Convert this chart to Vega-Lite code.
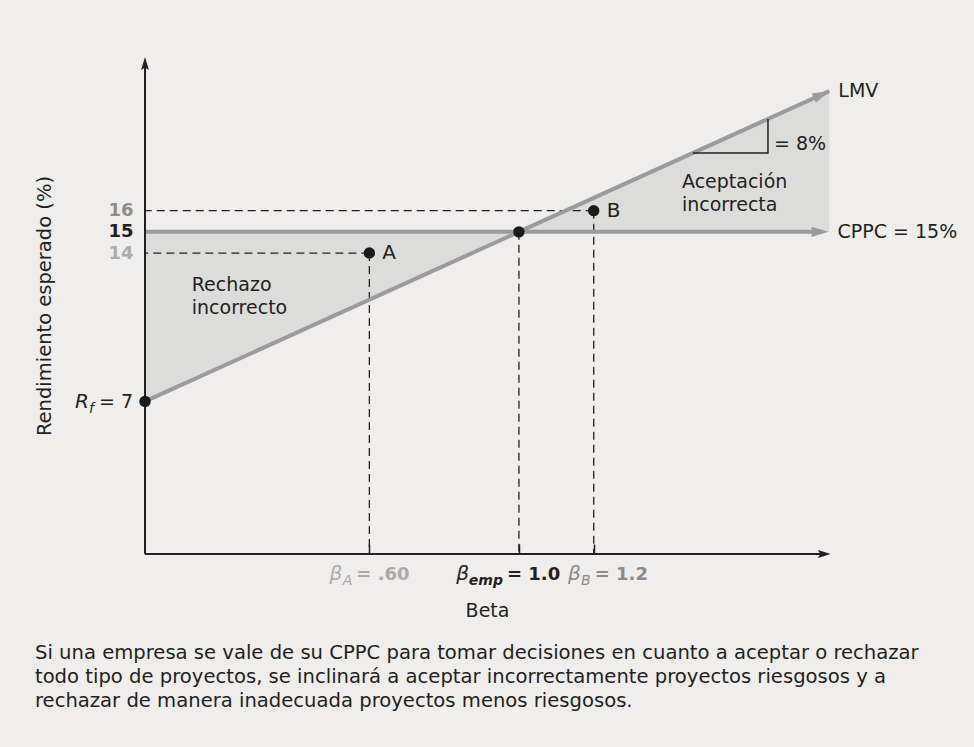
{
  "$schema": "https://vega.github.io/schema/vega-lite/v6.json",
  "width": 700,
  "height": 497,
  "autosize": {"type": "none"},
  "padding": {"left": 145, "top": 57, "right": 129, "bottom": 193},
  "background": "#efeeec",
  "config": {
    "view": {"stroke": null},
    "font": "DejaVu Sans",
    "text": {"font": "DejaVu Sans", "color": "#231f20"}
  },
  "title": {
    "text": [
      "Si una empresa se vale de su CPPC para tomar decisiones en cuanto a aceptar o rechazar",
      "todo tipo de proyectos, se inclinará a aceptar incorrectamente proyectos riesgosos y a",
      "rechazar de manera inadecuada proyectos menos riesgosos."
    ],
    "orient": "bottom",
    "anchor": "start",
    "frame": "bounds",
    "font": "DejaVu Sans",
    "fontSize": 19.6,
    "fontWeight": "normal",
    "color": "#231f20",
    "lineHeight": 24,
    "offset": 23
  },
  "datasets": {
    "shade": [
      {"b": 0, "lo": 7, "hi": 15},
      {"b": 1.0, "lo": 15, "hi": 15},
      {"b": 1.83, "lo": 15, "hi": 21.64}
    ],
    "lmv": [
      {"b": 0, "r": 7},
      {"b": 1.83, "r": 21.64}
    ],
    "pts": [
      {"name": "Rf", "b": 0, "r": 7},
      {"name": "A", "b": 0.6, "r": 14},
      {"name": "emp", "b": 1.0, "r": 15},
      {"name": "B", "b": 1.2, "r": 16}
    ],
    "tri": [
      {"o": 1, "b": 1.465, "r": 18.72},
      {"o": 2, "b": 1.666, "r": 18.72},
      {"o": 3, "b": 1.666, "r": 20.33}
    ],
    "notes": [
      {"b": 0.125, "r": 12.49, "t": "Rechazo\nincorrecto"},
      {"b": 1.436, "r": 17.35, "t": "Aceptación\nincorrecta"},
      {"b": 1.682, "r": 19.15, "t": "= 8%"}
    ],
    "ends": [
      {"b": 1.83, "r": 21.64, "t": "LMV"},
      {"b": 1.828, "r": 15, "t": "CPPC = 15%"}
    ],
    "bl": [
      {"k": "A", "b": 0.6, "sub": "A", "val": "= .60"},
      {"k": "emp", "b": 1.0, "sub": "emp", "val": "= 1.0"},
      {"k": "B", "b": 1.2, "sub": "B", "val": "= 1.2"}
    ]
  },
  "layer": [
    {
      "data": {"name": "shade"},
      "mark": {"type": "area", "color": "#dcdcdb", "opacity": 1},
      "encoding": {
        "x": {
          "field": "b", "type": "quantitative",
          "scale": {"domain": [0, 1.872], "nice": false, "zero": false},
          "axis": {
            "values": [0.6, 1.0, 1.2],
            "labels": false, "domain": false, "grid": false,
            "ticks": true, "tickSize": -10, "tickColor": "#231f20", "tickWidth": 1.5,
            "title": "Beta", "titleFont": "DejaVu Sans", "titleFontSize": 19, "titleFontWeight": "normal",
            "titleColor": "#231f20", "titlePadding": 47, "titleX": 342
          }
        },
        "y": {
          "field": "lo", "type": "quantitative",
          "scale": {"domain": [-0.2, 23.25], "nice": false, "zero": false},
          "axis": {
            "values": [14, 15, 16],
            "domain": false, "grid": false, "ticks": false,
            "labelFont": "DejaVu Sans", "labelFontSize": 18, "labelFontWeight": "bold",
            "labelPadding": 12, "labelOverlap": false,
            "labelColor": {
              "condition": [
                {"test": "datum.value === 15", "value": "#231f20"},
                {"test": "datum.value === 16", "value": "#8c8c8c"}
              ],
              "value": "#ababab"
            },
            "title": "Rendimiento esperado (%)", "titleFont": "DejaVu Sans", "titleFontSize": 19.5,
            "titleFontWeight": "normal", "titleColor": "#231f20", "titlePadding": 53
          }
        },
        "y2": {"field": "hi"}
      }
    },
    {
      "data": {"name": "pts"},
      "transform": [{"filter": "datum.name !== 'Rf'"}],
      "mark": {"type": "rule", "color": "#231f20", "strokeWidth": 1.3, "strokeDash": [8, 5]},
      "encoding": {
        "x": {"field": "b", "type": "quantitative"},
        "y": {"field": "r", "type": "quantitative"},
        "y2": {"datum": -0.2}
      }
    },
    {
      "data": {"name": "pts"},
      "transform": [{"filter": "datum.name === 'A' || datum.name === 'B'"}],
      "mark": {"type": "rule", "color": "#231f20", "strokeWidth": 1.3, "strokeDash": [8, 5]},
      "encoding": {
        "x": {"field": "b", "type": "quantitative"},
        "x2": {"datum": 0},
        "y": {"field": "r", "type": "quantitative"}
      }
    },
    {
      "data": {"name": "lmv"},
      "mark": {"type": "line", "color": "#9b9b9b", "strokeWidth": 4},
      "encoding": {
        "x": {"field": "b", "type": "quantitative"},
        "y": {"field": "r", "type": "quantitative"}
      }
    },
    {
      "data": {"values": [{}]},
      "mark": {"type": "rule", "color": "#9b9b9b", "strokeWidth": 4},
      "encoding": {
        "x": {"datum": 0, "type": "quantitative"},
        "x2": {"datum": 1.81},
        "y": {"datum": 15, "type": "quantitative"}
      }
    },
    {
      "data": {"values": [{}]},
      "mark": {"type": "rule", "color": "#231f20", "strokeWidth": 2},
      "encoding": {
        "x": {"datum": 0, "type": "quantitative"},
        "y": {"datum": -0.2, "type": "quantitative"},
        "y2": {"datum": 22.9}
      }
    },
    {
      "data": {"values": [{}]},
      "mark": {"type": "rule", "color": "#231f20", "strokeWidth": 2},
      "encoding": {
        "x": {"datum": 0, "type": "quantitative"},
        "x2": {"datum": 1.81},
        "y": {"datum": -0.2, "type": "quantitative"}
      }
    },
    {
      "data": {"name": "tri"},
      "mark": {"type": "line", "color": "#231f20", "strokeWidth": 1.5},
      "encoding": {
        "x": {"field": "b", "type": "quantitative"},
        "y": {"field": "r", "type": "quantitative"},
        "order": {"field": "o", "type": "quantitative"}
      }
    },
    {
      "data": {"values": [{}]},
      "mark": {"type": "point", "shape": "M0,0L-2,-0.6L-1.6,0L-2,0.6Z", "filled": true, "opacity": 1, "color": "#231f20", "size": 169, "angle": -90},
      "encoding": {"x": {"datum": 0, "type": "quantitative"}, "y": {"datum": 23.25, "type": "quantitative"}}
    },
    {
      "data": {"values": [{}]},
      "mark": {"type": "point", "shape": "M0,0L-2,-0.6L-1.6,0L-2,0.6Z", "filled": true, "opacity": 1, "color": "#231f20", "size": 169, "angle": 0},
      "encoding": {"x": {"datum": 1.834, "type": "quantitative"}, "y": {"datum": -0.2, "type": "quantitative"}}
    },
    {
      "data": {"values": [{}]},
      "mark": {"type": "point", "shape": "M0,0L-2,-0.6L-2,0.6Z", "filled": true, "opacity": 1, "color": "#9b9b9b", "size": 289, "angle": -24.4},
      "encoding": {"x": {"datum": 1.83, "type": "quantitative"}, "y": {"datum": 21.64, "type": "quantitative"}}
    },
    {
      "data": {"values": [{}]},
      "mark": {"type": "point", "shape": "M0,0L-2,-0.6L-2,0.6Z", "filled": true, "opacity": 1, "color": "#9b9b9b", "size": 289, "angle": 0},
      "encoding": {"x": {"datum": 1.828, "type": "quantitative"}, "y": {"datum": 15, "type": "quantitative"}}
    },
    {
      "data": {"name": "pts"},
      "mark": {"type": "point", "shape": "circle", "filled": true, "opacity": 1, "color": "#1a1a1a", "size": 130},
      "encoding": {
        "x": {"field": "b", "type": "quantitative"},
        "y": {"field": "r", "type": "quantitative"}
      }
    },
    {
      "data": {"name": "pts"},
      "transform": [{"filter": "datum.name === 'A' || datum.name === 'B'"}],
      "mark": {"type": "text", "align": "left", "baseline": "middle", "dx": 13, "fontSize": 20},
      "encoding": {
        "x": {"field": "b", "type": "quantitative"},
        "y": {"field": "r", "type": "quantitative"},
        "text": {"field": "name", "type": "nominal"}
      }
    },
    {
      "data": {"name": "notes"},
      "mark": {"type": "text", "align": "left", "baseline": "middle", "fontSize": 19, "lineBreak": "\n", "lineHeight": 23},
      "encoding": {
        "x": {"field": "b", "type": "quantitative"},
        "y": {"field": "r", "type": "quantitative"},
        "text": {"field": "t", "type": "nominal"}
      }
    },
    {
      "data": {"name": "ends"},
      "mark": {"type": "text", "align": "left", "baseline": "middle", "dx": 9, "fontSize": 19},
      "encoding": {
        "x": {"field": "b", "type": "quantitative"},
        "y": {"field": "r", "type": "quantitative"},
        "text": {"field": "t", "type": "nominal"}
      }
    },
    {
      "data": {"name": "pts"},
      "transform": [{"filter": "datum.name === 'Rf'"}],
      "mark": {"type": "text", "align": "right", "baseline": "alphabetic", "dx": -56, "dy": 7, "fontSize": 20, "fontStyle": "italic", "text": "R"},
      "encoding": {
        "x": {"field": "b", "type": "quantitative"},
        "y": {"field": "r", "type": "quantitative"}
      }
    },
    {
      "data": {"name": "pts"},
      "transform": [{"filter": "datum.name === 'Rf'"}],
      "mark": {"type": "text", "align": "left", "baseline": "alphabetic", "dx": -56, "dy": 12, "fontSize": 14, "fontStyle": "italic", "text": "f"},
      "encoding": {
        "x": {"field": "b", "type": "quantitative"},
        "y": {"field": "r", "type": "quantitative"}
      }
    },
    {
      "data": {"name": "pts"},
      "transform": [{"filter": "datum.name === 'Rf'"}],
      "mark": {"type": "text", "align": "right", "baseline": "alphabetic", "dx": -12, "dy": 7, "fontSize": 19, "text": "= 7"},
      "encoding": {
        "x": {"field": "b", "type": "quantitative"},
        "y": {"field": "r", "type": "quantitative"}
      }
    },
    {
      "data": {"name": "bl"},
      "transform": [{"filter": "datum.k === 'A'"}],
      "mark": {"type": "text", "align": "right", "baseline": "alphabetic", "dx": -27, "dy": 26, "fontSize": 20, "fontStyle": "italic", "color": "#aaaaaa", "text": "β"},
      "encoding": {"x": {"field": "b", "type": "quantitative"}, "y": {"datum": -0.2, "type": "quantitative"}}
    },
    {
      "data": {"name": "bl"},
      "transform": [{"filter": "datum.k === 'A'"}],
      "mark": {"type": "text", "align": "right", "baseline": "alphabetic", "dx": -17, "dy": 31, "fontSize": 14, "fontStyle": "italic", "color": "#aaaaaa"},
      "encoding": {"x": {"field": "b", "type": "quantitative"}, "y": {"datum": -0.2, "type": "quantitative"}, "text": {"field": "sub", "type": "nominal"}}
    },
    {
      "data": {"name": "bl"},
      "transform": [{"filter": "datum.k === 'A'"}],
      "mark": {"type": "text", "align": "left", "baseline": "alphabetic", "dx": -13, "dy": 26, "fontSize": 18, "fontWeight": "bold", "color": "#aaaaaa"},
      "encoding": {"x": {"field": "b", "type": "quantitative"}, "y": {"datum": -0.2, "type": "quantitative"}, "text": {"field": "val", "type": "nominal"}}
    },
    {
      "data": {"name": "bl"},
      "transform": [{"filter": "datum.k === 'emp'"}],
      "mark": {"type": "text", "align": "right", "baseline": "alphabetic", "dx": -50, "dy": 26, "fontSize": 20, "fontStyle": "italic", "color": "#231f20", "text": "β"},
      "encoding": {"x": {"field": "b", "type": "quantitative"}, "y": {"datum": -0.2, "type": "quantitative"}}
    },
    {
      "data": {"name": "bl"},
      "transform": [{"filter": "datum.k === 'emp'"}],
      "mark": {"type": "text", "align": "right", "baseline": "alphabetic", "dx": -16, "dy": 31, "fontSize": 14, "fontStyle": "italic", "fontWeight": "bold", "color": "#231f20"},
      "encoding": {"x": {"field": "b", "type": "quantitative"}, "y": {"datum": -0.2, "type": "quantitative"}, "text": {"field": "sub", "type": "nominal"}}
    },
    {
      "data": {"name": "bl"},
      "transform": [{"filter": "datum.k === 'emp'"}],
      "mark": {"type": "text", "align": "left", "baseline": "alphabetic", "dx": -12, "dy": 26, "fontSize": 18, "fontWeight": "bold", "color": "#231f20"},
      "encoding": {"x": {"field": "b", "type": "quantitative"}, "y": {"datum": -0.2, "type": "quantitative"}, "text": {"field": "val", "type": "nominal"}}
    },
    {
      "data": {"name": "bl"},
      "transform": [{"filter": "datum.k === 'B'"}],
      "mark": {"type": "text", "align": "right", "baseline": "alphabetic", "dx": -13, "dy": 26, "fontSize": 20, "fontStyle": "italic", "color": "#8a8a8a", "text": "β"},
      "encoding": {"x": {"field": "b", "type": "quantitative"}, "y": {"datum": -0.2, "type": "quantitative"}}
    },
    {
      "data": {"name": "bl"},
      "transform": [{"filter": "datum.k === 'B'"}],
      "mark": {"type": "text", "align": "right", "baseline": "alphabetic", "dx": -3, "dy": 31, "fontSize": 14, "fontStyle": "italic", "color": "#8a8a8a"},
      "encoding": {"x": {"field": "b", "type": "quantitative"}, "y": {"datum": -0.2, "type": "quantitative"}, "text": {"field": "sub", "type": "nominal"}}
    },
    {
      "data": {"name": "bl"},
      "transform": [{"filter": "datum.k === 'B'"}],
      "mark": {"type": "text", "align": "left", "baseline": "alphabetic", "dx": 1, "dy": 26, "fontSize": 18, "fontWeight": "bold", "color": "#8a8a8a"},
      "encoding": {"x": {"field": "b", "type": "quantitative"}, "y": {"datum": -0.2, "type": "quantitative"}, "text": {"field": "val", "type": "nominal"}}
    }
  ]
}
